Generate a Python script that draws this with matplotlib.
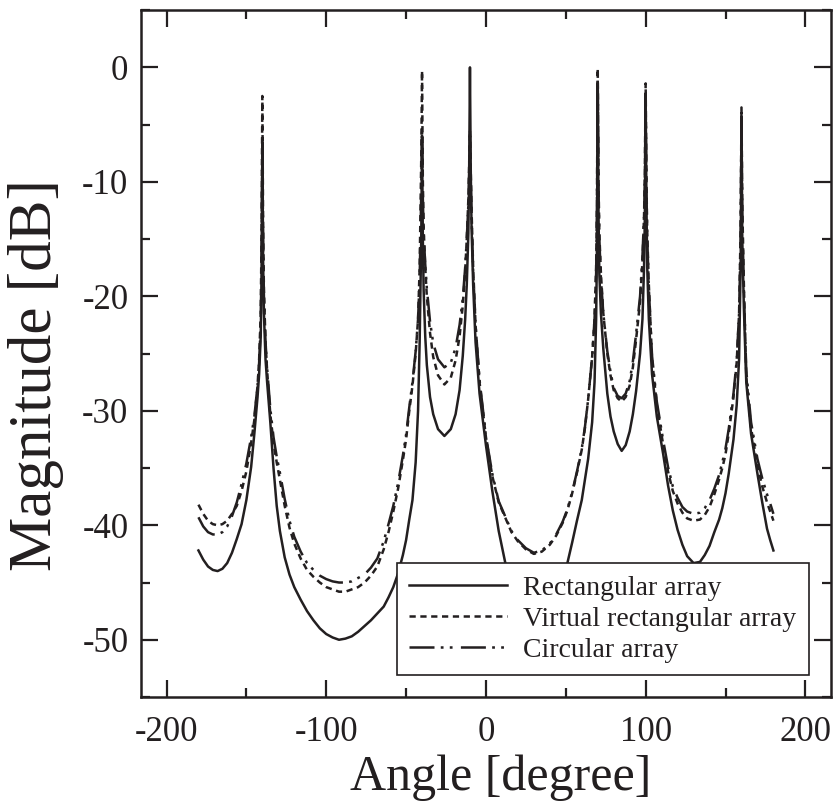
"""Angular spectrum of three array geometries."""
import matplotlib

matplotlib.use("Agg")
import matplotlib.pyplot as plt
from matplotlib.ticker import MultipleLocator

# angle grid [degree], denser around the six source directions
angle = [
    # -180 .. -140
    -180, -177, -174, -171, -168, -165, -162, -159, -156, -153, -150, -147,
    -145, -143, -142, -141, -140.5, -140,
    # -139.5 .. -40.5
    -139.5, -139, -138, -137, -135, -133, -131, -129, -126, -123,
    -120, -116, -112, -108, -104, -100, -96, -92, -88, -84,
    -80, -76, -72, -68, -64, -61, -58, -55, -52, -50,
    -48, -46, -44, -42.5, -41.5, -40.5,
    # -40 .. -10.5
    -40, -39.5, -39, -38, -37, -35, -33, -30, -26, -22, -19, -16.5, -14.5,
    -13, -12, -11, -10.5,
    # -10 .. 69.5
    -10, -9.5, -9, -8, -6.5, -4, 0, 4, 8, 12,
    16, 20, 25, 30, 35, 40, 44, 48, 51, 54,
    57, 60, 62, 64, 66.5, 68, 69, 69.5,
    # 70 .. 99.5
    70, 70.5, 71, 72, 73.5, 76, 78, 80, 82.5, 85,
    87.5, 90, 92, 94, 96.5, 98, 99, 99.5,
    # 100 .. 159.5
    100, 100.5, 101, 102, 104, 107, 111, 114, 117, 120,
    123, 126, 130, 134, 137, 140, 143, 146, 148, 150,
    152, 155, 157, 158.5, 159.5,
    # 160 .. 180
    160, 160.5, 161.5, 163, 166, 170, 173, 176, 178, 180,
]

# magnitude [dB]
rect = [
    -42.2, -43.0, -43.6, -43.9, -44.0, -43.8, -43.3, -42.4, -41.2, -39.9,
    -37.8, -34.9, -32.0, -28.8, -26.8, -23.5, -18.0, -7.0,
    -17.0, -21.5, -25.5, -27.5, -31.0, -35.0, -38.3, -40.5, -42.8, -44.3,
    -45.4, -46.5, -47.5, -48.3, -49.0, -49.5, -49.8, -50.0, -49.9, -49.7,
    -49.3, -48.8, -48.3, -47.7, -47.1, -46.3, -45.4, -44.2, -42.6, -41.3,
    -39.5, -37.8, -34.5, -30.0, -24.0, -15.0,
    -6.0, -15.0, -19.5, -23.5, -26.0, -28.8, -30.3, -31.6, -32.2, -31.6,
    -30.3, -28.2, -25.2, -22.0, -19.0, -14.5, -9.0,
    0.0, -9.0, -14.0, -19.0, -24.0, -28.5, -33.0, -37.0, -40.5, -43.2,
    -45.3, -46.8, -48.0, -48.5, -48.2, -47.0, -46.0, -44.8, -43.3, -41.5,
    -39.6, -37.8, -36.0, -34.2, -31.0, -27.5, -22.0, -16.0,
    -1.5, -13.0, -18.0, -21.5, -24.6, -28.5, -30.5, -31.8, -32.9, -33.5,
    -33.0, -31.8, -30.3, -28.3, -25.0, -22.0, -17.5, -13.0,
    -2.5, -12.0, -17.5, -22.0, -26.8, -30.5, -33.8, -36.5, -38.7, -40.4,
    -41.7, -42.7, -43.3, -43.2, -42.6, -41.8, -40.6, -39.5, -38.5, -37.2,
    -35.5, -32.5, -29.5, -25.5, -17.0,
    -4.3, -15.0, -21.0, -27.5, -32.0, -35.5, -38.0, -40.3, -41.3, -42.2,
]
virt = [
    -38.2, -39.0, -39.6, -39.9, -40.0, -39.9, -39.6, -39.0, -38.3, -37.0,
    -35.3, -32.8, -30.8, -27.8, -25.5, -21.5, -15.0, -2.5,
    -14.0, -19.5, -24.0, -26.5, -30.3, -32.8, -34.5, -36.0, -38.3, -40.2,
    -41.6, -42.9, -43.9, -44.5, -45.0, -45.4, -45.6, -45.8, -45.8, -45.6,
    -45.4, -45.0, -44.4, -43.6, -42.1, -40.6, -38.8, -36.8, -34.3, -32.5,
    -30.0, -27.8, -25.0, -22.0, -17.5, -8.0,
    -0.3, -10.0, -14.0, -17.5, -20.0, -23.2, -25.3, -26.9, -27.7, -27.1,
    -25.6, -23.5, -20.8, -17.8, -15.0, -11.5, -8.5,
    -5.5, -9.0, -12.5, -17.5, -22.5, -27.5, -32.3, -35.7, -38.0, -39.3,
    -40.6, -41.4, -42.1, -42.5, -42.3, -41.7, -40.9, -39.8, -38.7, -37.2,
    -35.4, -33.4, -31.5, -29.0, -25.3, -22.0, -17.5, -12.0,
    -0.1, -10.0, -14.5, -18.0, -21.5, -25.0, -26.9, -28.2, -28.9, -29.2,
    -28.8, -27.8, -26.2, -23.8, -20.5, -17.0, -13.0, -9.0,
    -1.4, -10.0, -14.5, -19.0, -25.5, -29.5, -33.0, -35.3, -37.0, -38.1,
    -38.9, -39.4, -39.6, -39.5, -39.1, -38.4, -37.3, -36.0, -35.0, -33.8,
    -32.0, -28.8, -25.8, -21.5, -14.0,
    -3.5, -12.0, -19.0, -27.0, -31.5, -34.8, -36.6, -38.0, -38.8, -39.6,
]
circ = [
    -39.3, -40.1, -40.6, -40.8, -40.8, -40.6, -40.1, -39.2, -38.0, -36.4,
    -34.6, -32.3, -30.5, -27.8, -25.8, -22.5, -17.0, -6.5,
    -15.5, -20.0, -24.0, -26.3, -29.8, -32.3, -34.0, -35.4, -37.7, -39.6,
    -41.0, -42.3, -43.3, -43.9, -44.4, -44.7, -44.9, -45.0, -45.0, -44.9,
    -44.6, -44.3, -43.7, -42.9, -41.4, -39.9, -38.3, -36.3, -33.9, -32.1,
    -29.7, -27.5, -24.8, -22.0, -18.5, -11.0,
    -5.5, -11.5, -14.5, -17.2, -19.3, -22.2, -24.1, -25.5, -26.2, -25.8,
    -24.5, -22.5, -20.2, -17.5, -15.0, -12.0, -9.5,
    -6.0, -10.0, -13.0, -17.8, -22.5, -27.3, -32.2, -35.5, -37.9, -39.2,
    -40.5, -41.3, -42.0, -42.4, -42.2, -41.6, -40.8, -39.7, -38.6, -37.1,
    -35.3, -33.3, -31.4, -29.0, -25.3, -22.0, -18.0, -13.0,
    -1.0, -11.0, -15.0, -18.5, -21.5, -24.8, -26.6, -28.0, -28.7, -28.9,
    -28.5, -27.4, -25.7, -23.3, -20.0, -16.5, -13.0, -10.0,
    -2.5, -11.0, -15.0, -19.3, -25.2, -29.2, -32.6, -34.9, -36.6, -37.6,
    -38.4, -38.8, -39.0, -38.9, -38.5, -37.8, -36.8, -35.6, -34.5, -33.3,
    -31.6, -28.5, -25.6, -21.5, -15.0,
    -4.5, -13.0, -19.5, -26.5, -31.0, -34.2, -35.9, -37.3, -38.1, -39.0,
]

labels = ["Rectangular array", "Virtual rectangular array", "Circular array"]

plt.rcParams["font.family"] = ["Liberation Serif", "DejaVu Serif"]
plt.rcParams["axes.unicode_minus"] = False
plt.rcParams["lines.scale_dashes"] = False

ink = "#231f20"

fig = plt.figure(figsize=(8.34, 8.10), dpi=100)
ax = fig.add_axes([0.169, 0.1395, 0.8273, 0.848])

ax.plot(angle, rect, color=ink, lw=1.8, label=labels[0])
ax.plot(angle, virt, color=ink, lw=1.8, dashes=(4.5, 3.3), label=labels[1])
ax.plot(angle, circ, color=ink, lw=1.8, dashes=(18, 4.5, 2, 4.5, 2, 6),
        label=labels[2])

ax.set_xlim(-216, 216)
ax.set_ylim(-55, 5)
ax.xaxis.set_major_locator(MultipleLocator(100))
ax.xaxis.set_minor_locator(MultipleLocator(50))
ax.yaxis.set_major_locator(MultipleLocator(10))
ax.yaxis.set_minor_locator(MultipleLocator(5))

for s in ax.spines.values():
    s.set_linewidth(1.8)
    s.set_color(ink)
ax.tick_params(which="both", direction="in", top=True, right=True,
               width=1.6, color=ink, labelcolor=ink)
ax.tick_params(which="major", length=12, labelsize=25)
ax.tick_params(which="minor", length=6.5)
ax.tick_params(axis="x", which="major", pad=14)
ax.tick_params(axis="y", which="major", pad=9)

ax.set_xlabel("Angle [degree]", fontsize=36, color=ink)
ax.set_ylabel("Magnitude [dB]", fontsize=44, color=ink)
ax.xaxis.set_label_coords(0.522, -0.0835)
ax.yaxis.set_label_coords(-0.112, 0.469)

leg = ax.legend(loc="lower right", bbox_to_anchor=(0.968, 0.032),
                borderaxespad=0, fontsize=20, handlelength=3.5,
                handletextpad=0.6, labelspacing=0.2, borderpad=0.45,
                fancybox=False, framealpha=1, edgecolor=ink)
leg.get_frame().set_linewidth(1.2)
for t in leg.get_texts():
    t.set_color(ink)

fig.savefig("out.png", dpi=100)
